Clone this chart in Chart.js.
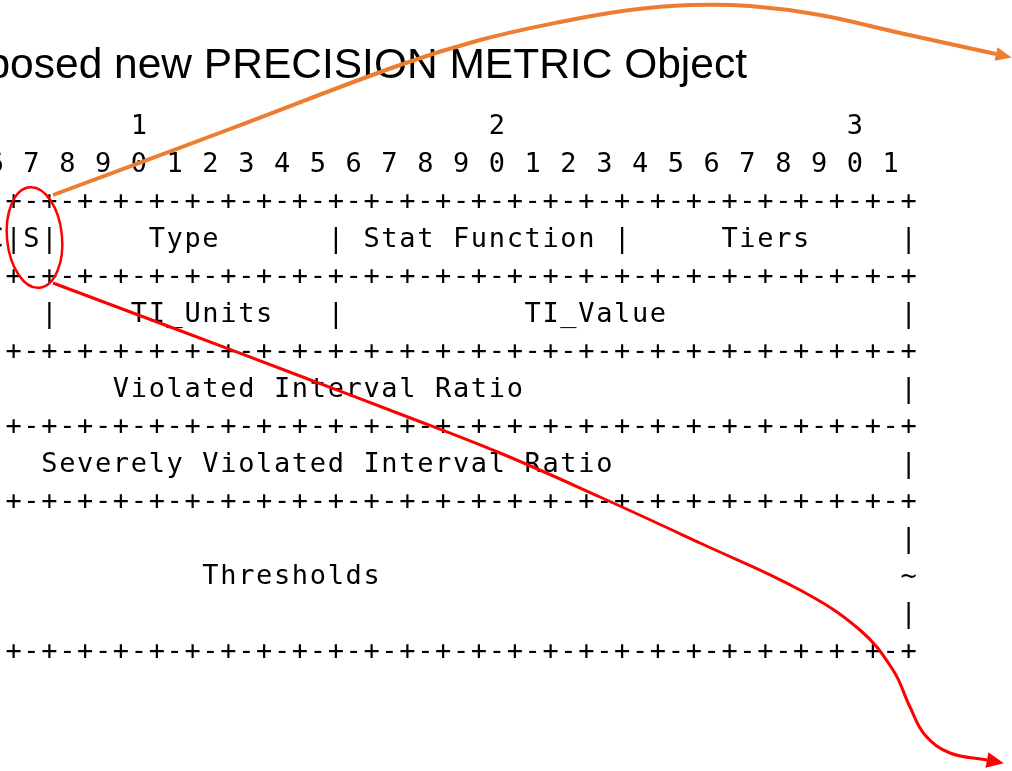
<!DOCTYPE html>
<html>
<head>
<meta charset="utf-8">
<script src="https://cdn.jsdelivr.net/npm/chart.js@4.4.1/dist/chart.umd.min.js"></script>
<style>
  html, body { margin: 0; padding: 0; background: #fff; overflow: hidden; }
  #wrap { width: 1012px; height: 771px; position: relative; }
</style>
</head>
<body>
<div id="wrap"><canvas id="slide"></canvas></div>
<script>
// --- Contenido de la lámina ---
const titleText = "Proposed new PRECISION METRIC Object";

const asciiRows = [
  " 0                   1                   2                   3",
  " 0 1 2 3 4 5 6 7 8 9 0 1 2 3 4 5 6 7 8 9 0 1 2 3 4 5 6 7 8 9 0 1",
  "+-+-+-+-+-+-+-+-+-+-+-+-+-+-+-+-+-+-+-+-+-+-+-+-+-+-+-+-+-+-+-+-+",
  "|  Reserved |C|S|     Type      | Stat Function |     Tiers     |",
  "+-+-+-+-+-+-+-+-+-+-+-+-+-+-+-+-+-+-+-+-+-+-+-+-+-+-+-+-+-+-+-+-+",
  "|   Reserved    |    TI_Units   |          TI_Value             |",
  "+-+-+-+-+-+-+-+-+-+-+-+-+-+-+-+-+-+-+-+-+-+-+-+-+-+-+-+-+-+-+-+-+",
  "|                   Violated Interval Ratio                     |",
  "+-+-+-+-+-+-+-+-+-+-+-+-+-+-+-+-+-+-+-+-+-+-+-+-+-+-+-+-+-+-+-+-+",
  "|               Severely Violated Interval Ratio                |",
  "+-+-+-+-+-+-+-+-+-+-+-+-+-+-+-+-+-+-+-+-+-+-+-+-+-+-+-+-+-+-+-+-+",
  "|                                                               |",
  "~                        Thresholds                             ~",
  "|                                                               |",
  "+-+-+-+-+-+-+-+-+-+-+-+-+-+-+-+-+-+-+-+-+-+-+-+-+-+-+-+-+-+-+-+-+",
];

// Flecha naranja (del bit S hacia arriba a la derecha)
const orangeX = [53, 230, 400, 480, 560, 630, 690, 750, 820, 900, 996];
const orangeY = [195, 129, 65, 40, 22, 10, 5, 6, 15, 33, 54];

// Flecha roja (del bit S hacia abajo a la derecha)
const redX = [53, 173, 300, 400, 500, 600, 700, 800, 860, 893, 910, 925, 950, 987];
const redY = [283, 328, 376, 414, 453, 497, 543, 590, 630, 670, 707, 735, 753, 760];

// Elipse roja alrededor de "S": centro x, centro y, radio x, radio y
const ringX = [34.5];
const ringY = [237.5];
const ringRX = [27.5];
const ringRY = [50.5];

// --- Geometría del texto ---
const col0 = -237, colStep = 17.9;
const firstBaseline = 134, rowStep = 37.5;
const titleRight = 747, titleBaseline = 78;

const toPoints = (xs, ys) => xs.map((v, i) => ({ x: v, y: ys[i] }));

const slidePlugin = {
  id: "slide",
  beforeDatasetsDraw(chart) {
    const { ctx, scales: { x, y } } = chart;
    ctx.save();
    ctx.fillStyle = "#000";
    ctx.textBaseline = "alphabetic";

    ctx.font = '42.5px "Liberation Sans", Arial, sans-serif';
    ctx.textAlign = "right";
    ctx.fillText(titleText, x.getPixelForValue(titleRight), y.getPixelForValue(titleBaseline));

    ctx.font = '27px "DejaVu Sans Mono", monospace';
    ctx.textAlign = "center";
    asciiRows.forEach((row, i) => {
      const py = y.getPixelForValue(firstBaseline + i * rowStep);
      [...row].forEach((ch, c) => {
        if (ch !== " ") ctx.fillText(ch, x.getPixelForValue(col0 + c * colStep), py);
      });
    });
    ctx.restore();
  },
  afterDatasetsDraw(chart) {
    const { ctx, scales: { x, y } } = chart;
    ctx.save();

    // elipse
    ctx.strokeStyle = "#ff0000";
    ctx.lineWidth = 2.5;
    ctx.beginPath();
    ctx.ellipse(x.getPixelForValue(ringX[0]), y.getPixelForValue(ringY[0]),
      ringRX[0], ringRY[0], -0.1, 0, Math.PI * 2);
    ctx.stroke();

    // puntas de flecha
    chart.data.datasets.forEach((ds, i) => {
      const pts = chart.getDatasetMeta(i).data;
      const last = pts[pts.length - 1];
      const prev = pts[pts.length - 2];
      const fx = last.cp1x !== undefined ? last.cp1x : prev.x;
      const fy = last.cp1y !== undefined ? last.cp1y : prev.y;
      const a = Math.atan2(last.y - fy, last.x - fx);
      const len = ds.headLen, w = ds.headW;
      ctx.fillStyle = ds.borderColor;
      ctx.beginPath();
      ctx.moveTo(last.x + Math.cos(a) * len, last.y + Math.sin(a) * len);
      ctx.lineTo(last.x - Math.sin(a) * w, last.y + Math.cos(a) * w);
      ctx.lineTo(last.x + Math.sin(a) * w, last.y - Math.cos(a) * w);
      ctx.closePath();
      ctx.fill();
    });
    ctx.restore();
  }
};

new Chart(document.getElementById("slide"), {
  type: "scatter",
  data: {
    datasets: [
      {
        data: toPoints(orangeX, orangeY),
        showLine: true,
        borderColor: "#ED7D31",
        borderWidth: 4,
        pointRadius: 0,
        tension: 0.4,
        headLen: 16,
        headW: 7
      },
      {
        data: toPoints(redX, redY),
        showLine: true,
        borderColor: "#ff0000",
        borderWidth: 3,
        pointRadius: 0,
        tension: 0.4,
        headLen: 17,
        headW: 8
      }
    ]
  },
  options: {
    responsive: true,
    maintainAspectRatio: false,
    animation: false,
    layout: { padding: 0 },
    plugins: { legend: { display: false }, tooltip: { enabled: false } },
    scales: {
      x: { type: "linear", min: 0, max: 1012, display: false },
      y: { type: "linear", min: 0, max: 771, reverse: true, display: false }
    }
  },
  plugins: [slidePlugin]
});
</script>
</body>
</html>
